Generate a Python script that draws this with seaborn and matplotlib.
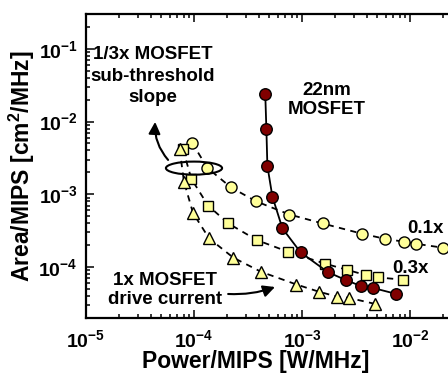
"""Area vs. power per MIPS for the 22nm MOSFET and steep-slope variants."""
import matplotlib
matplotlib.use("Agg")
from matplotlib import pyplot as plt
from matplotlib.patches import Ellipse
import seaborn as sns

# Power/MIPS [W/MHz] and Area/MIPS [cm^2/MHz]
MOSFET_POWER = [4.57e-4, 4.68e-4, 4.78e-4, 5.32e-4, 6.59e-4, 9.69e-4,
                1.73e-3, 2.54e-3, 3.50e-3, 4.53e-3, 7.41e-3]
MOSFET_AREA = [2.36e-2, 7.85e-3, 2.46e-3, 9.29e-4, 3.40e-4, 1.60e-4,
               8.55e-5, 6.65e-5, 5.51e-5, 5.18e-5, 4.29e-5]

DRIVE_01_POWER = [9.58e-5, 1.33e-4, 2.19e-4, 3.75e-4, 7.66e-4, 1.55e-3,
                  3.58e-3, 5.85e-3, 8.85e-3, 1.14e-2, 2.01e-2]
DRIVE_01_AREA = [5.14e-3, 2.31e-3, 1.25e-3, 8.02e-4, 5.28e-4, 3.98e-4,
                 2.88e-4, 2.45e-4, 2.23e-4, 2.09e-4, 1.85e-4]

DRIVE_03_POWER = [7.90e-5, 9.44e-5, 1.35e-4, 2.08e-4, 3.80e-4, 7.38e-4,
                  1.62e-3, 2.61e-3, 3.90e-3, 5.01e-3, 8.68e-3]
DRIVE_03_AREA = [4.16e-3, 1.64e-3, 7.00e-4, 3.98e-4, 2.36e-4, 1.63e-4,
                 1.12e-4, 9.18e-5, 7.78e-5, 7.23e-5, 6.71e-5]

DRIVE_1_POWER = [7.36e-5, 8.07e-5, 9.79e-5, 1.38e-4, 2.31e-4, 4.17e-4,
                 8.89e-4, 1.43e-3, 2.12e-3, 2.72e-3, 4.72e-3]
DRIVE_1_AREA = [4.16e-3, 1.50e-3, 5.53e-4, 2.48e-4, 1.35e-4, 8.63e-5,
                5.77e-5, 4.60e-5, 3.93e-5, 3.78e-5, 3.13e-5]

X_LIMITS = (1e-5, 1e-1)
Y_LIMITS = (2e-5, 0.3)
X_MAJOR_TICKS = [1e-5, 1e-4, 1e-3, 1e-2]

YELLOW = "#FFFF99"
DARK_RED = "#800000"
TEXT_FONT = {"fontsize": 13.5, "fontweight": "bold", "color": "black"}

sns.set_style("ticks", rc={
    "xtick.direction": "in", "ytick.direction": "in",
    "axes.edgecolor": "black", "xtick.color": "black", "ytick.color": "black",
    "axes.labelcolor": "black", "text.color": "black",
})
plt.rcParams["font.family"] = ["Liberation Sans", "DejaVu Sans"]
plt.rcParams["font.weight"] = "bold"
plt.rcParams["mathtext.fontset"] = "custom"
plt.rcParams["mathtext.rm"] = "Liberation Sans:bold"
plt.rcParams["mathtext.bf"] = "Liberation Sans:bold"
plt.rcParams["mathtext.default"] = "bf"

fig = plt.figure(figsize=(4.48, 3.75), dpi=100)
# the right part of the axes runs past the edge of the figure, as in the source
ax = fig.add_axes([86 / 448, 57 / 375, 432 / 448, 304 / 375])
ax.set_xscale("log")
ax.set_yscale("log")

series = [
    (DRIVE_01_POWER, DRIVE_01_AREA, "o", 8, YELLOW, "--"),
    (DRIVE_03_POWER, DRIVE_03_AREA, "s", 7.5, YELLOW, "--"),
    (DRIVE_1_POWER, DRIVE_1_AREA, "^", 9, YELLOW, "--"),
    (MOSFET_POWER, MOSFET_AREA, "o", 8.3, DARK_RED, "-"),
]
for power, area, marker, size, face, style in series:
    sns.lineplot(
        x=power, y=area, ax=ax, sort=False, errorbar=None,
        color="black", linewidth=1.3, marker=marker, markersize=size,
        markerfacecolor=face, markeredgecolor="black", markeredgewidth=1,
    )
    line = ax.lines[-1]
    line.set_linestyle(style)
    if style == "--":
        line.set_dashes((3.5, 3))

ax.set_xlim(*X_LIMITS)
ax.set_ylim(*Y_LIMITS)
ax.set_xticks(X_MAJOR_TICKS)

for spine in ax.spines.values():
    spine.set_linewidth(1.6)
ax.tick_params(which="both", direction="in", top=True, right=False,
               width=1.1, labelsize=14, colors="black")
ax.tick_params(axis="x", which="major", length=6, pad=8)
ax.tick_params(axis="y", which="major", length=6, pad=6)
ax.tick_params(which="minor", length=3)

ax.set_xlabel("Power/MIPS [W/MHz]", fontsize=16.5, fontweight="bold")
ax.xaxis.set_label_coords((256 - 86) / 432, -0.105)
ax.set_ylabel("Area/MIPS [cm$^2$/MHz]", fontsize=16.5, fontweight="bold",
              labelpad=1)

# annotations
ax.text(0.155, 0.796, "1/3x MOSFET\nsub-threshold\nslope", transform=ax.transAxes,
        ha="center", va="center", linespacing=1.35, **TEXT_FONT)
ax.text(0.558, 0.717, "22nm\nMOSFET", transform=ax.transAxes,
        ha="center", va="center", linespacing=1.2, **TEXT_FONT)
ax.text(0.183, 0.092, "1x MOSFET\ndrive current", transform=ax.transAxes,
        ha="center", va="center", linespacing=1.15, **TEXT_FONT)
ax.text(0.743, 0.296, "0.1x", transform=ax.transAxes,
        ha="left", va="center", **TEXT_FONT)
ax.text(0.708, 0.164, "0.3x", transform=ax.transAxes,
        ha="left", va="center", **TEXT_FONT)

ax.add_patch(Ellipse((0.25, 0.493), 0.13, 0.043, transform=ax.transAxes,
                     fill=False, edgecolor="black", linewidth=1.5, zorder=5))

arrow = dict(arrowstyle="-|>,head_length=0.7,head_width=0.35",
             color="black", linewidth=1.5, shrinkA=0, shrinkB=0)
ax.annotate("", xy=(0.160, 0.645), xytext=(0.190, 0.520),
            xycoords="axes fraction", textcoords="axes fraction",
            arrowprops=dict(arrow, connectionstyle="arc3,rad=-0.2"))
ax.annotate("", xy=(0.4375, 0.102), xytext=(0.329, 0.079),
            xycoords="axes fraction", textcoords="axes fraction",
            arrowprops=dict(arrow, connectionstyle="arc3,rad=0.1"))

fig.savefig("out.png", dpi=100)
